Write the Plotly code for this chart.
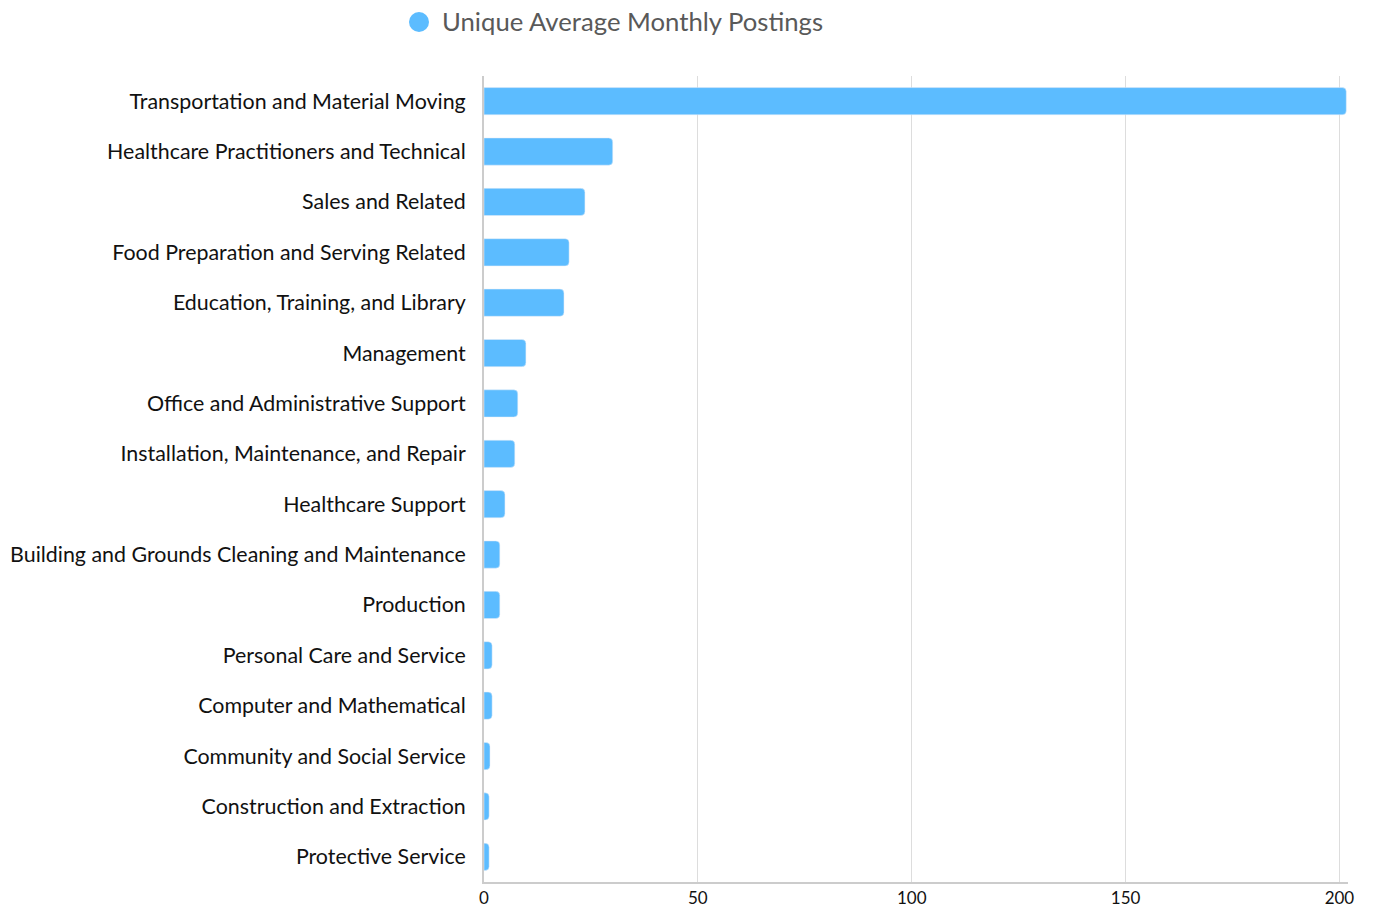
import plotly.graph_objects as go

# Occupation groups, largest first (drawn top to bottom)
categories = [
    "Transportation and Material Moving",
    "Healthcare Practitioners and Technical",
    "Sales and Related",
    "Food Preparation and Serving Related",
    "Education, Training, and Library",
    "Management",
    "Office and Administrative Support",
    "Installation, Maintenance, and Repair",
    "Healthcare Support",
    "Building and Grounds Cleaning and Maintenance",
    "Production",
    "Personal Care and Service",
    "Computer and Mathematical",
    "Community and Social Service",
    "Construction and Extraction",
    "Protective Service",
]
postings = [201.6, 30.1, 23.6, 19.9, 18.7, 9.8, 7.9, 7.2, 4.9, 3.7, 3.7, 1.9, 1.9, 1.4, 1.2, 1.2]

series_name = "Unique Average Monthly Postings"
bar_color = "#5cbcff"
font_family = "Lato, 'Open Sans', sans-serif"

W, H = 1373, 908
ml, mr, mt, mb = 484, 25, 76, 26
pw, ph = W - ml - mr, H - mt - mb

fig = go.Figure()
fig.add_trace(go.Bar(
    x=postings,
    y=categories,
    orientation="h",
    marker=dict(color=bar_color, cornerradius=4),
    name=series_name,
    showlegend=False,
    hovertemplate="%{y}: %{x}<extra></extra>",
))

# Legend drawn as a dot and a label above the plot
def px_to_paper(px, py):
    return (px - ml) / pw, (H - mb - py) / ph

cx, cy = px_to_paper(419, 22)
r = 10
fig.add_shape(
    type="circle", xref="paper", yref="paper",
    x0=cx - r / pw, x1=cx + r / pw, y0=cy - r / ph, y1=cy + r / ph,
    fillcolor=bar_color, line=dict(width=0),
)
tx, ty = px_to_paper(440, 21)
fig.add_annotation(
    xref="paper", yref="paper", x=tx, y=ty, xanchor="left", yanchor="middle",
    text=series_name, showarrow=False,
    font=dict(family=font_family, size=25.7, color="#595959"),
)

fig.update_layout(
    width=W, height=H,
    margin=dict(l=ml, r=mr, t=mt, b=mb, pad=0),
    paper_bgcolor="white", plot_bgcolor="white",
    bargap=0.46,
    font=dict(family=font_family, color="#111111"),
    showlegend=False,
)
fig.update_xaxes(
    range=[0, 202], tickvals=[0, 50, 100, 150, 200],
    showgrid=True, gridcolor="#dddddd", gridwidth=1,
    showline=True, linecolor="#cccccc", linewidth=2,
    zeroline=False, ticks="",
    tickfont=dict(size=17, color="#111111"),
    automargin=False,
)
fig.update_yaxes(
    autorange="reversed", categoryorder="array", categoryarray=categories,
    showgrid=False, showline=True, linecolor="#cccccc", linewidth=2,
    ticks="outside", ticklen=12, tickcolor="rgba(0,0,0,0)",
    tickfont=dict(size=21.4, color="#111111"),
    automargin=False,
)

fig.write_html("out.html")
